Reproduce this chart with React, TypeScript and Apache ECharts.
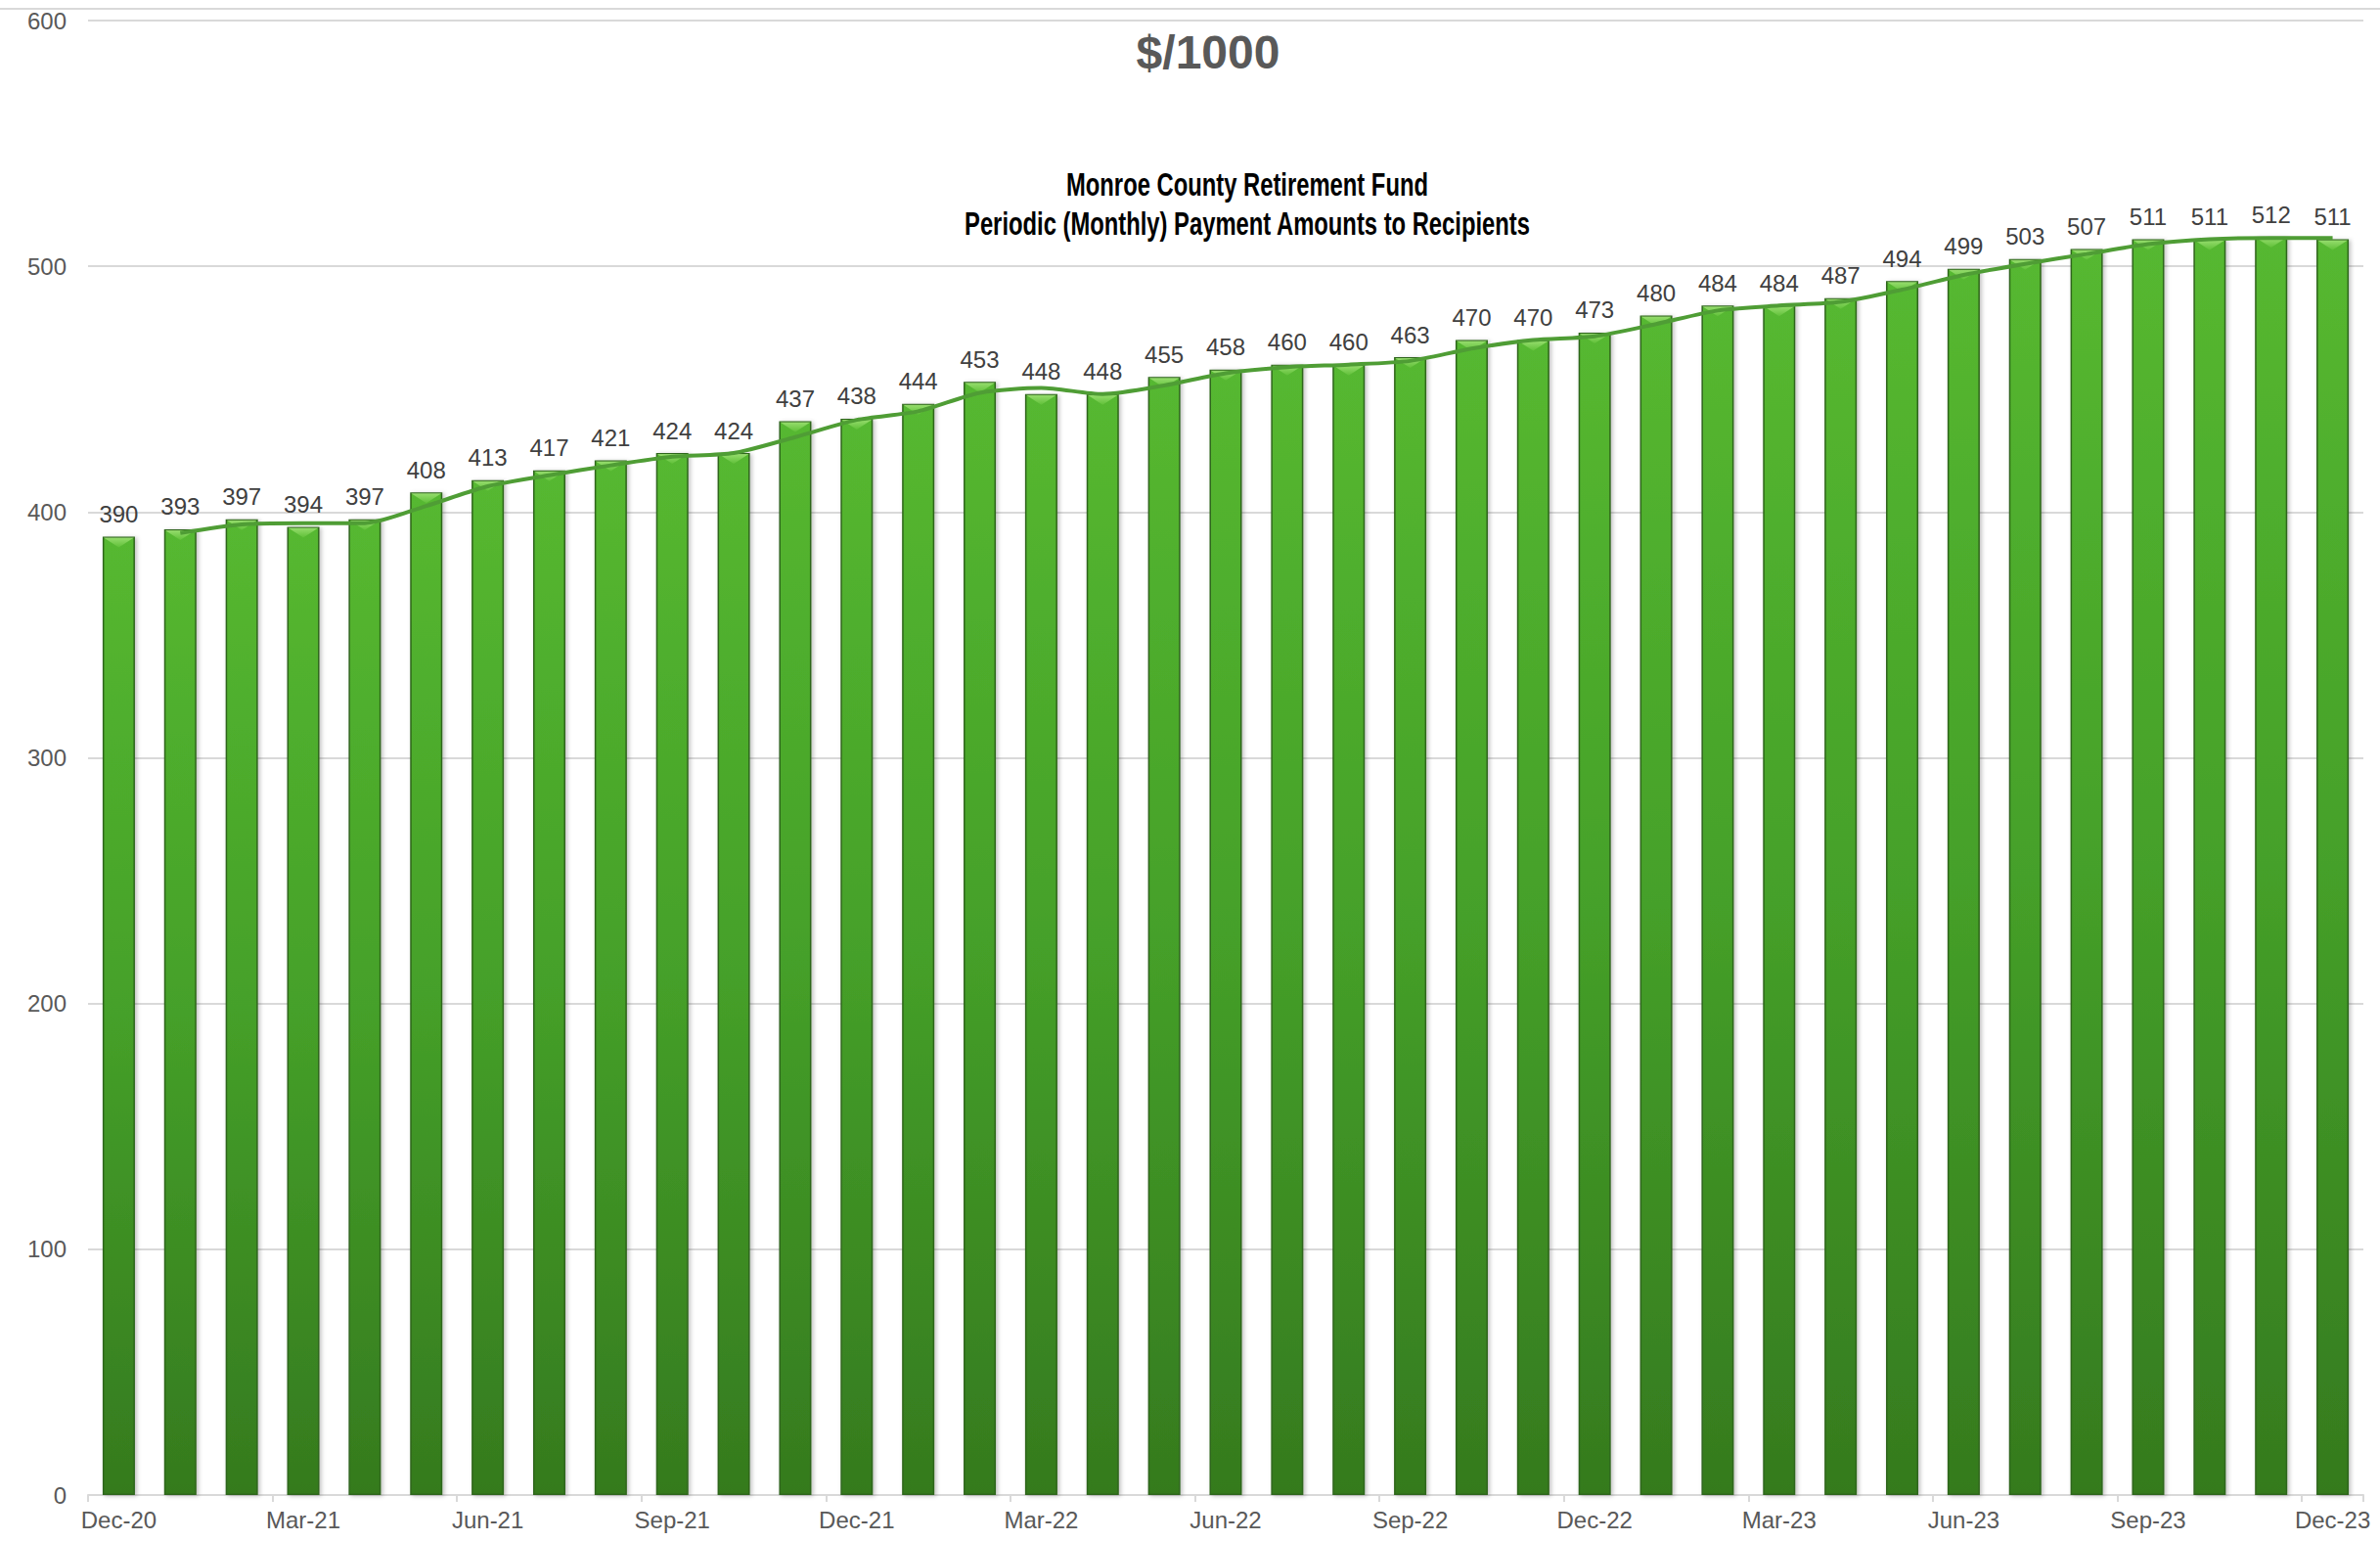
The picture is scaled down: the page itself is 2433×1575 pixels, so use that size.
import React, { useEffect, useRef } from "react";
import * as echarts from "echarts";

const months: string[] = [
  "Dec-20", "Jan-21", "Feb-21", "Mar-21", "Apr-21", "May-21", "Jun-21", "Jul-21", "Aug-21", "Sep-21", "Oct-21", "Nov-21",
  "Dec-21", "Jan-22", "Feb-22", "Mar-22", "Apr-22", "May-22", "Jun-22", "Jul-22", "Aug-22", "Sep-22", "Oct-22", "Nov-22",
  "Dec-22", "Jan-23", "Feb-23", "Mar-23", "Apr-23", "May-23", "Jun-23", "Jul-23", "Aug-23", "Sep-23", "Oct-23", "Nov-23",
  "Dec-23",
];

const payments: number[] = [
  390, 393, 397, 394, 397, 408, 413, 417, 421, 424, 424, 437,
  438, 444, 453, 448, 448, 455, 458, 460, 460, 463, 470, 470,
  473, 480, 484, 484, 487, 494, 499, 503, 507, 511, 511, 512,
  511,
];

// 2-period moving-average trendline
const trend: (number | null)[] = [
  null, 391.5, 395, 395.5, 395.5, 402.5, 410.5, 415, 419, 422.5, 424, 430.5,
  437.5, 441, 448.5, 450.5, 448, 451.5, 456.5, 459, 460, 461.5, 466.5, 470,
  471.5, 476.5, 482, 484, 485.5, 490.5, 496.5, 501, 505, 509, 511, 511.5,
  511.5,
];

const yTicks = { min: 0, max: 600, interval: 100 };

const W = 2433;
const H = 1575;

export default function App() {
  const ref = useRef<HTMLDivElement>(null);

  useEffect(() => {
    if (!ref.current) return;
    const chart = echarts.init(ref.current, undefined, { renderer: "svg", width: W, height: H });
    const font = "'Liberation Sans', Arial, sans-serif";
    chart.setOption({
      animation: false,
      backgroundColor: "#ffffff",
      textStyle: { fontFamily: font },
      grid: { left: 90, right: 17, top: 21, bottom: 47, containLabel: false },
      graphic: [
        { type: "line", shape: { x1: 0, y1: 9, x2: W, y2: 9 }, style: { stroke: "#d9d9d9", lineWidth: 2 }, z: 10 },
        {
          type: "text", x: 1235, y: 53,
          style: { text: "$/1000", font: `bold 48px ${font}`, fill: "#595959", textAlign: "center", textVerticalAlign: "middle" },
          z: 10,
        },
        {
          type: "text", x: 1275, y: 188, scaleX: 0.7,
          style: { text: "Monroe County Retirement Fund", font: `bold 34px ${font}`, fill: "#000000", textAlign: "center", textVerticalAlign: "middle" },
          z: 10,
        },
        {
          type: "text", x: 1275, y: 228, scaleX: 0.7,
          style: { text: "Periodic (Monthly) Payment Amounts to Recipients", font: `bold 34px ${font}`, fill: "#000000", textAlign: "center", textVerticalAlign: "middle" },
          z: 10,
        },
      ],
      xAxis: {
        type: "category",
        data: months,
        boundaryGap: true,
        axisLine: { show: true, lineStyle: { color: "#d9d9d9", width: 2 } },
        axisTick: { show: true, interval: 2, length: 7, lineStyle: { color: "#d9d9d9", width: 2 } },
        axisLabel: { interval: 2, fontSize: 24, color: "#595959", margin: 13, fontFamily: font },
        splitLine: { show: false },
      },
      yAxis: {
        type: "value",
        min: yTicks.min,
        max: yTicks.max,
        interval: yTicks.interval,
        axisLine: { show: false },
        axisTick: { show: false },
        axisLabel: { fontSize: 24, color: "#595959", margin: 22, fontFamily: font },
        splitLine: { show: true, lineStyle: { color: "#d9d9d9", width: 2 } },
      },
      series: [
        {
          type: "bar",
          data: payments,
          barWidth: 33,
          z: 2,
          itemStyle: {
            color: new echarts.graphic.LinearGradient(0, 0, 0, 1, [
              { offset: 0, color: "#56b830" },
              { offset: 0.5, color: "#45a029" },
              { offset: 1, color: "#357a1e" },
            ]),
            borderColor: "#2f661b",
            borderWidth: 1.5,
            shadowColor: "rgba(0,0,0,0.25)",
            shadowBlur: 4,
            shadowOffsetX: 2,
            shadowOffsetY: 1,
          },
          label: {
            show: true,
            position: "top",
            distance: 11,
            fontSize: 24,
            color: "#404040",
            fontFamily: font,
          },
        },
        {
          type: "scatter",
          data: payments,
          symbol: "path://M0,0 L32,0 L16,10 Z",
          symbolSize: [31, 10],
          symbolOffset: [0, 6],
          z: 3,
          silent: true,
          itemStyle: {
            color: new echarts.graphic.LinearGradient(0, 0, 0, 1, [
              { offset: 0, color: "#a6e67c" },
              { offset: 1, color: "#62c23a" },
            ]),
          },
          label: { show: false },
        },
        {
          type: "line",
          data: trend,
          smooth: 0.25,
          showSymbol: false,
          symbol: "none",
          z: 5,
          lineStyle: { color: "#4f9d35", width: 4 },
          connectNulls: false,
        },
      ],
    });
    return () => chart.dispose();
  }, []);

  return <div ref={ref} style={{ position: "fixed", left: 0, top: 0, width: W, height: H, background: "#fff" }} />;
}
